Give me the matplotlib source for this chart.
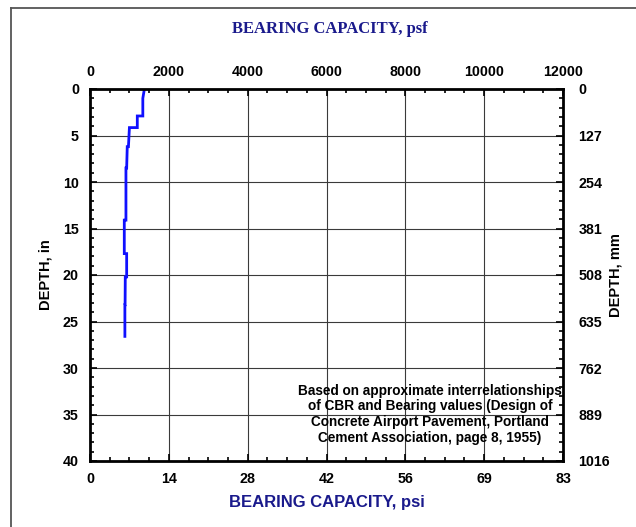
import matplotlib
matplotlib.use("Agg")
import matplotlib.pyplot as plt
from matplotlib.lines import Line2D
from matplotlib.ticker import MultipleLocator, FixedLocator, FixedFormatter

# ---- data ----
depth_in = [0, 1.0, 2.9, 2.9, 4.15, 4.15, 6.2, 6.2, 8.5, 8.5, 14.1, 14.1,
            17.7, 17.7, 20.2, 20.2, 23.2, 23.2, 26.6]
capacity_psf = [1380, 1340, 1340, 1200, 1200, 1000, 975, 945, 930, 912, 912, 870,
                870, 930, 930, 895, 890, 885, 885]

psf_ticks = [0, 2000, 4000, 6000, 8000, 10000, 12000]
psi_labels = [str(int(round(v / 144.0))) for v in psf_ticks]
depth_ticks = [0, 5, 10, 15, 20, 25, 30, 35, 40]
mm_labels = [str(int(round(v * 25.4))) for v in depth_ticks]

navy = "#1a1a8c"
sans = ["Liberation Sans", "DejaVu Sans"]
serif = ["Liberation Serif", "DejaVu Serif"]

fig = plt.figure(figsize=(6.36, 5.27), dpi=100)
ax = fig.add_axes([90 / 636, 1 - 461 / 527, 473 / 636, 372 / 527])

ax.plot(capacity_psf, depth_in, color="#1010ff", lw=2.0, solid_joinstyle="miter")
ax.set_xlim(0, 12000)
ax.set_ylim(40, 0)

# grid
for x in psf_ticks[1:-1]:
    ax.axvline(x, color="#3a3a3a", lw=0.8, zorder=0)
for y in depth_ticks[1:-1]:
    ax.axhline(y, color="#3a3a3a", lw=0.8, zorder=0)

for s in ax.spines.values():
    s.set_linewidth(2.0)

# bottom axis (psi)
ax.xaxis.set_major_locator(FixedLocator(psf_ticks))
ax.xaxis.set_major_formatter(FixedFormatter(psi_labels))
ax.xaxis.set_minor_locator(MultipleLocator(500))
ax.yaxis.set_major_locator(FixedLocator(depth_ticks))
ax.yaxis.set_minor_locator(MultipleLocator(1))
ax.tick_params(axis="both", which="major", direction="in", length=5, width=1.2,
               labelsize=10.3, pad=8)
ax.tick_params(axis="both", which="minor", direction="in", length=3, width=1.2)
ax.tick_params(axis="y", which="both", pad=8)
for lab in ax.get_xticklabels() + ax.get_yticklabels():
    lab.set_fontfamily(sans)
    lab.set_fontweight("bold")

# top axis (psf)
axt = ax.twiny()
axt.set_xlim(0, 12000)
axt.xaxis.set_major_locator(FixedLocator(psf_ticks))
axt.xaxis.set_minor_locator(MultipleLocator(500))
axt.tick_params(axis="x", which="major", direction="in", length=5, width=1.2,
                labelsize=10.3, pad=7)
axt.tick_params(axis="x", which="minor", direction="in", length=3, width=1.2)
for lab in axt.get_xticklabels():
    lab.set_fontfamily(sans)
    lab.set_fontweight("bold")
for s in axt.spines.values():
    s.set_visible(False)

# right axis (mm)
axr = ax.twinx()
axr.set_ylim(40, 0)
axr.yaxis.set_major_locator(FixedLocator(depth_ticks))
axr.yaxis.set_major_formatter(FixedFormatter(mm_labels))
axr.yaxis.set_minor_locator(MultipleLocator(1))
axr.tick_params(axis="y", which="major", direction="in", length=5, width=1.2,
                labelsize=10.3, pad=11)
axr.tick_params(axis="y", which="minor", direction="in", length=3, width=1.2)
for lab in axr.get_yticklabels():
    lab.set_fontfamily(sans)
    lab.set_fontweight("bold")
for s in axr.spines.values():
    s.set_visible(False)

# labels
fig.text(330 / 636, 1 - 29 / 527, "BEARING CAPACITY, psf", ha="center", va="center",
         family=serif, weight="bold", fontsize=12, color=navy)
fig.text(327 / 636, 1 - 503 / 527, "BEARING CAPACITY, psi", ha="center", va="center",
         family=sans, weight="bold", fontsize=12, color=navy)
fig.text(45 / 636, 1 - 275 / 527, "DEPTH, in", ha="center", va="center", rotation=90,
         family=sans, weight="bold", fontsize=10.5)
fig.text(616 / 636, 1 - 275 / 527, "DEPTH, mm", ha="center", va="center", rotation=90,
         family=sans, weight="bold", fontsize=10.5)

ax.text(0.719, 0.126, "Based on approximate interrelationships\nof CBR and Bearing values (Design of\n"
        "Concrete Airport Pavement, Portland\nCement Association, page 8, 1955)",
        transform=ax.transAxes, ha="center", va="center", family=sans, weight="bold",
        fontsize=9.8, linespacing=1.15)

# figure border (top and left)
fig.add_artist(Line2D([11 / 636, 11 / 636], [0, 1 - 8 / 527], color="#555555", lw=1.3,
                      transform=fig.transFigure))
fig.add_artist(Line2D([11 / 636, 1], [1 - 8 / 527, 1 - 8 / 527], color="#555555", lw=1.3,
                      transform=fig.transFigure))

fig.savefig("out.png", dpi=100, facecolor="white")
